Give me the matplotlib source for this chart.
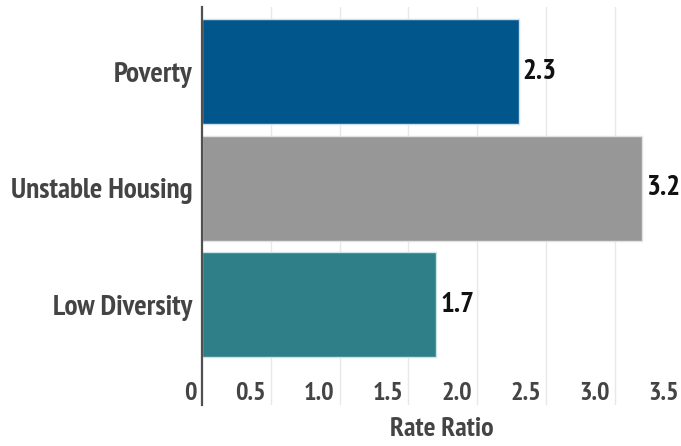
import matplotlib
matplotlib.use("Agg")
import matplotlib.pyplot as plt
from matplotlib import transforms

# rate ratios by neighbourhood factor
categories = ["Poverty", "Unstable Housing", "Low Diversity"]
rate_ratio = [2.3, 3.2, 1.7]
bar_colors = ["#01578c", "#979797", "#2e7f88"]
edge_colors = ["#cfe0ec", "#e2e2e2", "#cde3e5"]
tick_values = [0, 0.5, 1.0, 1.5, 2.0, 2.5, 3.0, 3.5]
tick_labels = ["0", "0.5", "1.0", "1.5", "2.0", "2.5", "3.0", "3.5"]

plt.rcParams["font.family"] = ["PT Sans Narrow", "Fira Sans Condensed",
                               "Barlow Semi Condensed", "DejaVu Sans"]
plt.rcParams["font.weight"] = "bold"

fig = plt.figure(figsize=(6.81, 4.46), dpi=100)
ax = fig.add_axes([202 / 681, 41 / 446, 479 / 681, 398 / 446])

y = list(range(len(categories)))
ax.barh(y, rate_ratio, height=0.9, color=bar_colors, edgecolor=edge_colors,
        linewidth=1, zorder=3)

ax.set_xlim(0, 3.48)
ax.set_ylim(2.857, -0.553)

# light vertical gridlines
for t in tick_values[1:]:
    ax.axvline(t, color="#e8e8e8", linewidth=1, zorder=1)

for s in ["top", "right", "bottom"]:
    ax.spines[s].set_visible(False)
ax.spines["left"].set_color("#505050")
ax.spines["left"].set_linewidth(1.6)
ax.spines["left"].set_zorder(4)

ax.set_xticks([])
ax.set_yticks(y)
ax.set_yticklabels(categories, fontsize=21, color="#444444")
ax.tick_params(axis="y", length=0, pad=7)

# x tick labels sit inside the plot, right-aligned against each gridline
shift = transforms.ScaledTranslation(-5 / 100, 0, fig.dpi_scale_trans)
blend = transforms.blended_transform_factory(ax.transData, ax.transAxes) + shift
for t, lab in zip(tick_values, tick_labels):
    ax.text(t, 0.03, lab, transform=blend, ha="right", va="center",
            fontsize=19, color="#444444", clip_on=False)

for yi, v in zip(y, rate_ratio):
    ax.text(v + 0.03, yi, f"{v}", ha="left", va="center", fontsize=21,
            color="#111111", zorder=5)

ax.set_xlabel("Rate Ratio", fontsize=20, fontweight="bold", color="#444444",
              labelpad=9)

fig.savefig("out.png", dpi=100)
